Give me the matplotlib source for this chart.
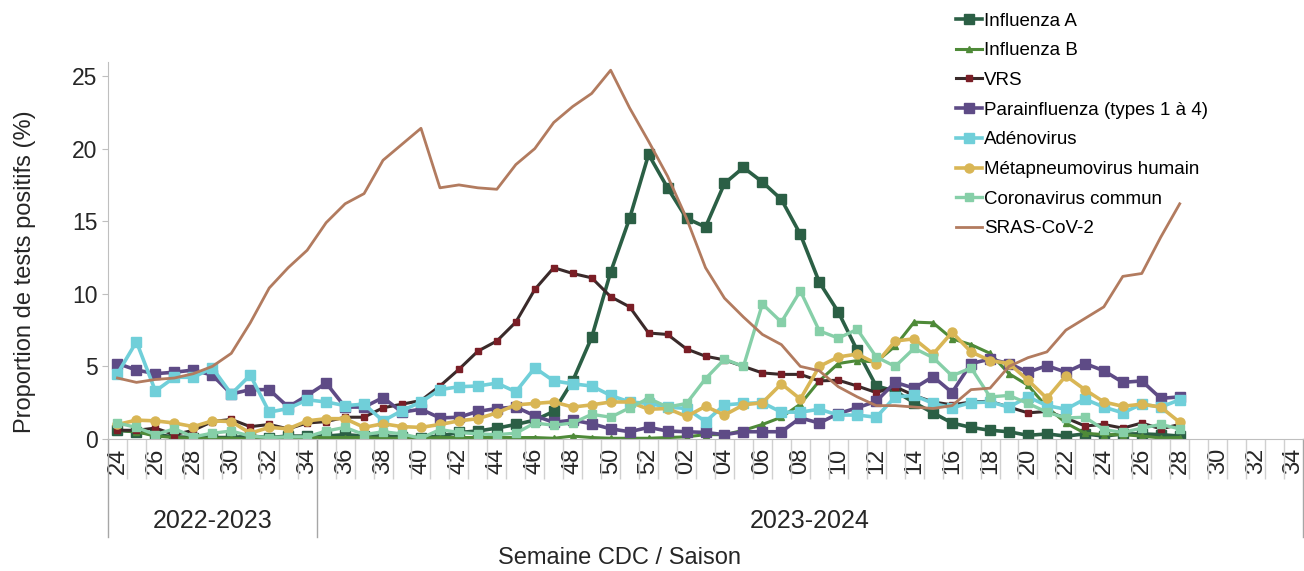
import matplotlib
matplotlib.use('Agg')
import matplotlib.pyplot as plt
import matplotlib.transforms as mtransforms

plt.rcParams['font.family'] = ['Liberation Sans', 'DejaVu Sans']

# semaines CDC, saison 2022-2023 (24 a 34) puis 2023-2024 (35 a 52, 01 a 34)
semaines = [24, 25, 26, 27, 28, 29, 30, 31, 32, 33, 34,
            35, 36, 37, 38, 39, 40, 41, 42, 43, 44, 45, 46, 47, 48, 49,
            50, 51, 52, 1, 2, 3, 4, 5, 6, 7, 8, 9, 10, 11, 12, 13, 14,
            15, 16, 17, 18, 19, 20, 21, 22, 23, 24, 25, 26, 27, 28, 29,
            30, 31, 32, 33, 34]
saisons = ["2022-2023", "2023-2024"]
semaines_par_saison = [11, 52]

influenza_a = [0.6, 0.5, 0.3, 0.15, 0.1, 0.1, 0.1, 0.2, 0.1, 0.2,
               0.2, 0.2, 0.3, 0.2, 0.2, 0.15, 0.1, 0.2, 0.45, 0.55,
               0.75, 1.0, 1.3, 1.9, 4.0, 7.0, 11.5, 15.2, 19.6, 17.3,
               15.2, 14.6, 17.6, 18.7, 17.7, 16.5, 14.1, 10.8, 8.75, 6.1,
               3.65, 3.3, 2.5, 1.8, 1.1, 0.8, 0.6, 0.5, 0.25, 0.35,
               0.2, 0.35, 0.2, 0.35, 0.35, 0.3, 0.2]
influenza_b = [0.6, 0.5, 0.2, 0.1, 0.05, 0.05, 0.05, 0.0, 0.05, 0.1,
               0.1, 0.1, 0.1, 0.1, 0.05, 0.05, 0.05, 0.1, 0.1, 0.1,
               0.1, 0.1, 0.1, 0.05, 0.2, 0.1, 0.05, 0.05, 0.05, 0.1,
               0.15, 0.3, 0.3, 0.6, 1.0, 1.5, 2.4, 4.0, 5.2, 5.4,
               5.3, 6.4, 8.05, 8.0, 6.9, 6.5, 5.9, 4.5, 3.7, 2.2,
               1.1, 0.4, 0.3, 0.3, 0.2, 0.07, 0.1]
vrs = [0.6, 0.6, 0.75, 0.3, 0.6, 1.2, 1.35, 0.85, 1.0, 0.7,
       1.1, 1.2, 1.5, 1.5, 2.15, 2.4, 2.65, 3.65, 4.8, 6.05,
       6.75, 8.05, 10.3, 11.8, 11.4, 11.1, 9.8, 9.1, 7.3, 7.2,
       6.2, 5.7, 5.45, 5.0, 4.55, 4.45, 4.45, 4.0, 4.05, 3.65,
       3.2, 3.6, 3.0, 2.55, 2.35, 2.55, 2.6, 2.2, 1.8, 1.9,
       1.45, 0.9, 1.0, 0.75, 1.1, 0.7, 1.0]
parainfluenza = [5.2, 4.75, 4.5, 4.6, 4.75, 4.4, 3.1, 3.4, 3.4, 2.2,
                 3.0, 3.85, 2.2, 2.2, 2.85, 1.85, 2.05, 1.45, 1.5, 1.9,
                 2.1, 2.2, 1.6, 1.15, 1.3, 1.05, 0.7, 0.5, 0.8, 0.55,
                 0.5, 0.45, 0.3, 0.5, 0.5, 0.5, 1.45, 1.1, 1.75, 2.15,
                 2.6, 3.9, 3.5, 4.3, 3.2, 5.2, 5.5, 5.2, 4.6, 5.05,
                 4.6, 5.2, 4.7, 3.9, 4.0, 2.8, 2.9]
adenovirus = [4.5, 6.7, 3.3, 4.25, 4.25, 4.9, 3.1, 4.4, 1.85, 2.1,
              2.7, 2.55, 2.3, 2.4, 1.25, 1.95, 2.55, 3.4, 3.6, 3.65,
              3.85, 3.25, 4.9, 4.0, 3.8, 3.65, 3.0, 2.55, 2.45, 2.2,
              2.1, 1.2, 2.35, 2.45, 2.5, 1.85, 1.85, 2.05, 1.65, 1.65,
              1.5, 2.9, 3.0, 2.45, 2.15, 2.5, 2.55, 2.2, 2.9, 2.3,
              2.05, 2.75, 2.2, 1.8, 2.4, 2.2, 2.7]
metapneumovirus = [1.0, 1.3, 1.25, 1.1, 0.85, 1.25, 1.2, 0.4, 0.8, 0.7,
                   1.25, 1.4, 1.4, 0.8, 1.05, 0.85, 0.8, 1.0, 1.25, 1.4,
                   1.8, 2.35, 2.45, 2.55, 2.2, 2.35, 2.55, 2.55, 2.05, 2.1,
                   1.55, 2.25, 1.65, 2.35, 2.5, 3.8, 2.75, 5.0, 5.65, 5.85,
                   5.2, 6.75, 6.9, 5.85, 7.35, 6.0, 5.4, 5.2, 4.05, 2.8,
                   4.35, 3.4, 2.55, 2.25, 2.4, 2.2, 1.15]
coronavirus = [1.1, 0.8, 0.3, 0.7, 0.15, 0.4, 0.55, 0.2, 0.1, 0.15,
               0.15, 0.55, 0.8, 0.3, 0.5, 0.35, 0.05, 0.65, 0.45, 0.35,
               0.3, 0.4, 1.1, 0.95, 1.1, 1.7, 1.5, 2.15, 2.8, 2.2,
               2.45, 4.15, 5.5, 5.0, 9.3, 8.05, 10.2, 7.45, 6.95, 7.55,
               5.65, 5.0, 6.25, 5.6, 4.35, 4.9, 2.9, 3.0, 2.45, 1.85,
               1.45, 1.5, 0.65, 0.45, 0.75, 1.0, 0.7]
sras_cov2 = [4.2, 3.9, 4.1, 4.2, 4.5, 5.0, 5.9, 8.0, 10.4, 11.8,
             13.0, 14.9, 16.2, 16.9, 19.2, 20.3, 21.4, 17.3, 17.5, 17.3,
             17.2, 18.9, 20.0, 21.8, 22.9, 23.8, 25.4, 22.8, 20.5, 18.1,
             15.2, 11.8, 9.7, 8.4, 7.2, 6.5, 5.0, 4.7, 3.6, 2.9,
             2.3, 2.3, 2.2, 2.1, 2.3, 3.4, 3.5, 5.0, 5.6, 6.0,
             7.5, 8.3, 9.1, 11.2, 11.4, 13.9, 16.2]

gris = '#BFBFBF'

fig = plt.figure(figsize=(13.04, 5.71), dpi=100)
# axe de 0 (y=439 px) a 26 (y=61.5 px)
ax = fig.add_axes([108 / 1304, 132 / 571, 1195 / 1304, 377.5 / 571])

x = list(range(len(sras_cov2)))

ax.plot(x, influenza_a, color='#2B5F45', lw=2.6, marker='s', ms=6.5,
        label='Influenza A')
ax.plot(x, influenza_b, color='#4E8A38', lw=2.2, marker='^', ms=4,
        label='Influenza B')
ax.plot(x, vrs, color='#3A2A2A', lw=2.2, marker='s', ms=4.5,
        mfc='#7A1E26', mec='#7A1E26', label='VRS')
ax.plot(x, parainfluenza, color='#5E4B86', lw=2.6, marker='s', ms=6.5,
        label='Parainfluenza (types 1 à 4)')
ax.plot(x, adenovirus, color='#70CFD9', lw=2.6, marker='s', ms=6.5,
        label='Adénovirus')
ax.plot(x, metapneumovirus, color='#D9B655', lw=2.6, marker='o', ms=6.5,
        label='Métapneumovirus humain')
ax.plot(x, coronavirus, color='#86CFA8', lw=2.4, marker='s', ms=6,
        label='Coronavirus commun')
ax.plot(x, sras_cov2, color='#B27B5F', lw=2.0, label='SRAS-CoV-2')

ax.set_xlim(-0.5, len(semaines) - 0.5)
ax.set_ylim(0, 26)
ax.set_yticks([0, 5, 10, 15, 20, 25])
ax.tick_params(axis='y', labelsize=16.5, length=4.5, color=gris, pad=3,
               labelcolor='#262626')

pos = list(range(0, len(semaines), 2))
ax.set_xticks(pos)
ax.set_xticklabels(['%02d' % semaines[i] for i in pos], rotation=90)
ax.tick_params(axis='x', which='major', length=0, labelsize=17, pad=6,
               labelcolor='#262626')
ax.set_xticks([i - 0.5 for i in range(1, len(semaines))], minor=True)
ax.tick_params(axis='x', which='minor', length=29, color='#D0D0D0', width=1)

for side in ['top', 'right']:
    ax.spines[side].set_visible(False)
ax.spines['left'].set_color(gris)
ax.spines['bottom'].set_color(gris)

# separateurs et etiquettes de saison (hauteur d'axe 377.5 px)
trans = mtransforms.blended_transform_factory(ax.transData, ax.transAxes)
debut = -0.5
ax.plot([debut, debut], [0, -98 / 377.5], color='#A6A6A6', lw=1,
        transform=trans, clip_on=False)
for saison, n in zip(saisons, semaines_par_saison):
    fin = debut + n
    ax.plot([fin, fin], [0, -98 / 377.5], color='#A6A6A6', lw=1,
            transform=trans, clip_on=False)
    ax.text((debut + fin) / 2, -82 / 377.5, saison, transform=trans,
            ha='center', va='center', fontsize=18, color='#262626')
    debut = fin

fig.text(619 / 1304, 1 - 558 / 571, 'Semaine CDC / Saison', ha='center',
         va='center', fontsize=17, color='#262626')
fig.text(25 / 1304, 1 - 272 / 571, 'Proportion de tests positifs (%)',
         ha='center', va='center', rotation=90, fontsize=17,
         color='#262626')

fig.legend(loc='upper left', bbox_to_anchor=(948 / 1304, 1 - 5 / 571),
           frameon=False, fontsize=13.5, handlelength=1.4,
           handletextpad=0.1, labelspacing=0.67, borderaxespad=0)

fig.savefig('out.png', dpi=100)
